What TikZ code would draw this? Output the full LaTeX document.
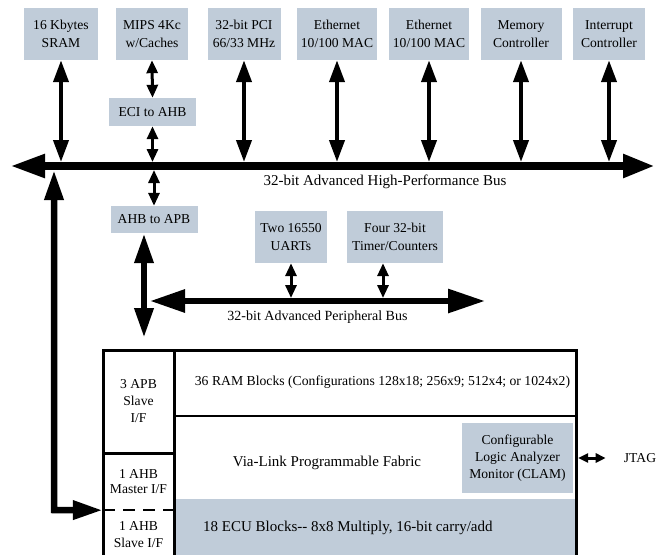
\documentclass[tikz,border=0pt]{standalone}
\usepackage{fontspec}
\setmainfont{Liberation Serif}
\usetikzlibrary{arrows.meta}
\definecolor{boxblue}{RGB}{192,204,217}
\newcommand{\boxfont}{\fontsize{13.6}{18.5}\selectfont}
\newcommand{\cellfont}{\fontsize{13.6}{17}\selectfont}
\newcommand{\bigfont}{\fontsize{15}{18}\selectfont}

\begin{document}
\begin{tikzpicture}[x=1pt,y=-1pt,
		blk/.style={fill=boxblue,inner sep=0pt,align=center,font=\boxfont},
		cell/.style={inner sep=0pt,align=center,font=\cellfont,minimum width=71pt},
		bigarrow/.style={line width=4pt,{Triangle[length=22pt,width=15pt]}-{Triangle[length=22pt,width=15pt]}},
		smallarrow/.style={line width=3pt,{Triangle[length=13pt,width=11pt]}-{Triangle[length=13pt,width=11pt]}},
		jtagarrow/.style={line width=3pt,{Triangle[length=10pt,width=9pt]}-{Triangle[length=10pt,width=9pt]}},
		fatarrow/.style={line width=6.5pt,line join=miter,{Triangle[length=30pt,width=18pt]}-{Triangle[length=30pt,width=18pt]}},
		mainbus/.style={line width=8pt,{Triangle[length=35pt,width=22pt]}-{Triangle[length=32pt,width=22pt]}},
		periphbus/.style={line width=6pt,{Triangle[length=35pt,width=22pt]}-{Triangle[length=37pt,width=23pt]}}]
		\useasboundingbox (0,0) rectangle (671,554);
		\clip (0,0) rectangle (671,554);

		%top blocks
		\node[blk,minimum width=74pt,minimum height=52pt] (sram) at (61,34) {16 Kbytes\\SRAM};
		\node[blk,minimum width=72pt,minimum height=52pt] (mips) at (152,34) {MIPS 4Kc\\w/Caches};
		\node[blk,minimum width=73pt,minimum height=52pt] (pci) at (244,34) {32-bit PCI\\66/33 MHz};
		\node[blk,minimum width=80pt,minimum height=52pt] (eth1) at (337,34) {Ethernet\\10/100 MAC};
		\node[blk,minimum width=80pt,minimum height=52pt] (eth2) at (429,34) {Ethernet\\10/100 MAC};
		\node[blk,minimum width=81pt,minimum height=52pt] (mem) at (521,34) {Memory\\Controller};
		\node[blk,minimum width=72pt,minimum height=52pt] (intr) at (609,34) {Interrupt\\Controller};
		\node[blk,minimum width=87pt,minimum height=28pt] (eci) at (152.5,112) {ECI to AHB};

		%AHB
		\coordinate (ahbW) at (10,166);
		\coordinate (ahbE) at (655,166);
		\coordinate (ahbtop) at (0,162);
		\coordinate (ahbbot) at (0,170);
		\foreach \n in {sram,pci,eth1,eth2,mem,intr}
			\draw[bigarrow] (\n.south) -- (\n.south |- ahbtop);
		\draw[smallarrow] (mips.south) -- (eci.north);
		\draw[smallarrow] (eci.south) -- (eci.south |- ahbtop);
		\draw[mainbus] (ahbW) -- (ahbE);
		\node[font=\bigfont] (ahblabel) at (385,182) {32-bit Advanced High-Performance Bus};

		%APB
		\node[blk,minimum width=87pt,minimum height=27pt] (a2p) at (154,219.5) {AHB to APB};
		\node[blk,minimum width=72pt,minimum height=52pt] (uart) at (291,237) {Two 16550\\UARTs};
		\node[blk,minimum width=96pt,minimum height=52pt] (tmr) at (395,237) {Four 32-bit\\Timer/Counters};
		\draw[smallarrow] (a2p.north |- ahbbot) -- (a2p.north);
		\coordinate (apbW) at (150,301);
		\coordinate (apbE) at (485,301);
		\coordinate (apbtop) at (0,298);
		\path ([xshift=-12pt]tmr.south) coordinate (tmrs);
		\draw[smallarrow] (uart.south) -- (uart.south |- apbtop);
		\draw[smallarrow] (tmrs) -- (tmrs |- apbtop);
		\draw[periphbus] (apbW) -- (apbE);
		\node[font=\fontsize{14}{17}\selectfont] (apblabel) at (317.5,317) {32-bit Advanced Peripheral Bus};

		%FPGA part
		\fill[boxblue] (174,499) rectangle (576,570);
		\node[blk,minimum width=111pt,minimum height=70pt,font=\cellfont] (clam) at (517.5,458) {Configurable\\Logic Analyzer\\Monitor (CLAM)};
		\draw[line width=3pt] (103,570) -- (103,350) -- (576,350) -- (576,570);
		\draw[line width=3pt] (174,350) -- (174,570);
		\draw[line width=3pt] (103,453) -- (174,453);
		\draw[line width=2.5pt] (174,416) -- (576,416);
		\draw[line width=2.5pt,dash pattern=on 12pt off 8pt] (103,510) -- (174,510);

		\node[cell,minimum height=103pt] (apbs) at (138.5,401.5) {3 APB\\Slave\\I/F};
		\node[cell,minimum height=57pt,font=\fontsize{13.6}{15}\selectfont] (mst) at (138.5,481.5) {1 AHB\\Master I/F};
		\node[cell] (slv) at (138.5,535) {1 AHB\\Slave I/F};
		\node[font=\fontsize{13.7}{16}\selectfont] (ram) at (382.5,382) {36 RAM Blocks (Configurations 128x18; 256x9; 512x4; or 1024x2)};
		\node[font=\bigfont] (fabric) at (327,463) {Via-Link Programmable Fabric};
		\node[font=\bigfont,anchor=west,inner sep=0pt] (ecu) at (203,528) {18 ECU Blocks-{}- 8x8 Multiply, 16-bit carry/add};

		\path ([xshift=-10pt]a2p.south) coordinate (a2ps);
		\coordinate (fabtop) at (0,338);
		\draw[fatarrow] (a2ps) -- (a2ps |- fabtop);
		\coordinate (bend) at (54,510);
		\draw[fatarrow] (bend |- ahbbot) -- (bend) -- (mst.south west);

		\node[font=\boxfont,inner sep=0pt] (jtag) at (640,458) {JTAG};
		\draw[jtagarrow] ([xshift=5pt]clam.east) -- ([xshift=-18pt]jtag.west);
	\end{tikzpicture}
\end{document}
